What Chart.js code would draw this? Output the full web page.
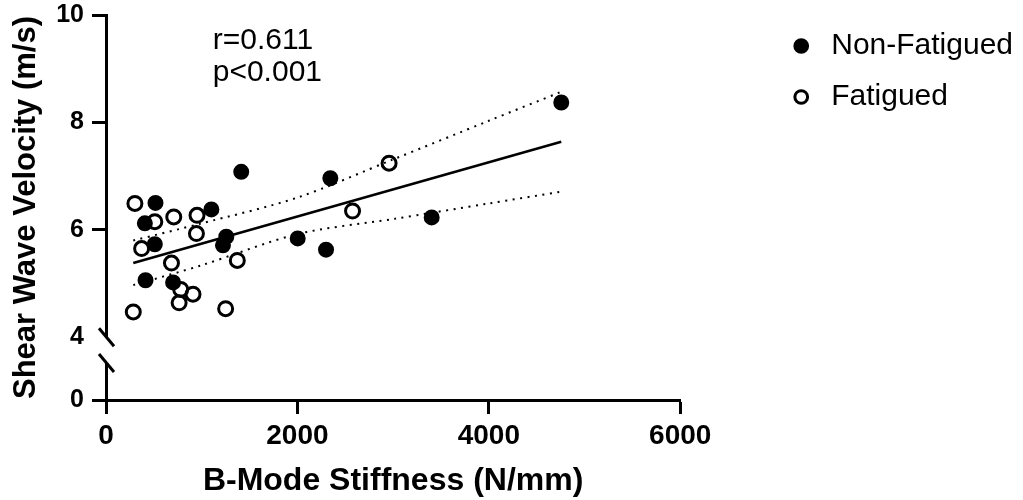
<!DOCTYPE html>
<html>
<head>
<meta charset="utf-8">
<script src="https://cdn.jsdelivr.net/npm/chart.js@4.4.0/dist/chart.umd.min.js"></script>
<style>
  html, body { margin: 0; padding: 0; background: #fff; }
</style>
</head>
<body>
<canvas id="chart" width="1023" height="500"></canvas>
<script>
// Non-Fatigued (filled circles)
const nonFatX = [517, 406, 510, 413, 701, 1101, 1257, 1222, 1413, 2344, 2003, 2299, 3403, 4757];
const nonFatY = [6.50, 6.12, 5.73, 5.06, 5.02, 6.38, 5.87, 5.71, 7.08, 6.96, 5.84, 5.63, 6.23, 8.37];

// Fatigued (open circles)
const fatX = [302, 510, 708, 951, 945, 372, 684, 1372, 2576, 781, 909, 764, 285, 1250, 2958];
const fatY = [6.49, 6.15, 6.24, 6.27, 5.93, 5.65, 5.38, 5.43, 6.35, 4.89, 4.80, 4.64, 4.47, 4.53, 7.24];

// regression line and its 95% band (dotted)
const fitX = [285, 4757];
const fitY = [5.38, 7.64];
const bandX = [285, 1000, 2000, 3000, 4000, 4757];
const bandUpper = [5.80, 6.12, 6.60, 7.31, 8.03, 8.57];
const bandLower = [4.97, 5.34, 5.92, 6.20, 6.49, 6.71];

const xTicks = [0, 2000, 4000, 6000];
const yTicks = [0, 4, 6, 8, 10];
const statsText = ['r=0.611', 'p<0.001'];
const statsAtX = 1115;
const statsAtY = [9.37, 8.77];

// broken y axis: 4..10 is linear, the short segment with 0 sits below a break
const Y_BREAK = 4;
const Y_ZERO_POS = 2.83;
const Y_LOWER_TOP = 3.52;
function yAxisPos(v) {
  return v >= Y_BREAK ? v : Y_ZERO_POS + (v / Y_BREAK) * (Y_LOWER_TOP - Y_ZERO_POS);
}

const black = '#000';
const FONT = "'Liberation Sans', Arial, Helvetica, sans-serif";
Chart.defaults.font.family = FONT;
Chart.defaults.color = black;

const toPts = (xs, ys) => xs.map((x, i) => ({ x: x, y: ys[i] }));

const axisBreak = {
  id: 'axisBreak',
  afterDraw(chart) {
    const { ctx } = chart;
    const y = chart.scales.y;
    const ax = chart.chartArea.left;
    const p1 = y.getPixelForValue(Y_BREAK);
    const p2 = y.getPixelForValue(Y_LOWER_TOP);
    ctx.save();
    ctx.fillStyle = '#fff';
    ctx.fillRect(ax - 4, p1, 8, p2 - p1);
    ctx.strokeStyle = black;
    ctx.lineWidth = 3;
    [p1, p2].forEach(p => {
      ctx.beginPath();
      ctx.moveTo(ax - 7, p - 9);
      ctx.lineTo(ax + 8, p + 9);
      ctx.stroke();
    });
    ctx.restore();
  }
};

const statsLabel = {
  id: 'statsLabel',
  afterDatasetsDraw(chart) {
    const { ctx } = chart;
    const { x, y } = chart.scales;
    ctx.save();
    ctx.font = '30px ' + FONT;
    ctx.fillStyle = black;
    ctx.textAlign = 'left';
    ctx.textBaseline = 'alphabetic';
    statsText.forEach((t, i) => ctx.fillText(t, x.getPixelForValue(statsAtX), y.getPixelForValue(statsAtY[i])));
    ctx.restore();
  }
};

const axisGrid = {
  display: true, drawOnChartArea: false, drawTicks: true,
  tickLength: 14, tickWidth: 3, tickColor: black
};

new Chart(document.getElementById('chart'), {
  type: 'scatter',
  data: {
    datasets: [
      { label: 'Non-Fatigued', data: toPts(nonFatX, nonFatY), pointStyle: 'circle',
        pointRadius: 6.5, borderWidth: 3, borderColor: black, backgroundColor: black, order: 2 },
      { label: 'Fatigued', data: toPts(fatX, fatY), pointStyle: 'circle',
        pointRadius: 7, borderWidth: 3, borderColor: black, backgroundColor: 'rgba(0,0,0,0)', order: 2 },
      { type: 'line', label: 'fit', data: toPts(fitX, fitY), borderColor: black, borderWidth: 2.5,
        pointRadius: 0, fill: false, order: 1 },
      { type: 'line', label: 'upper', data: toPts(bandX, bandUpper), borderColor: black, borderWidth: 2,
        borderDash: [2, 5.5], pointRadius: 0, fill: false, tension: 0.3, order: 1 },
      { type: 'line', label: 'lower', data: toPts(bandX, bandLower), borderColor: black, borderWidth: 2,
        borderDash: [2, 5.5], pointRadius: 0, fill: false, tension: 0.3, order: 1 }
    ]
  },
  options: {
    responsive: false,
    animation: false,
    layout: { padding: { left: 4, top: 10, right: 0, bottom: 0 } },
    plugins: {
      tooltip: { enabled: false },
      legend: {
        position: 'right',
        align: 'start',
        maxWidth: 320,
        labels: {
          usePointStyle: true, boxWidth: 30, boxHeight: 9, padding: 21,
          font: { size: 30 }, color: black,
          filter: item => item.datasetIndex < 2
        }
      }
    },
    scales: {
      x: {
        type: 'linear', min: 0, max: 6000,
        afterBuildTicks: s => { s.ticks = xTicks.map(v => ({ value: v })); },
        border: { display: true, color: black, width: 3 },
        grid: axisGrid,
        ticks: { font: { size: 28, weight: 'bold' }, padding: 5, color: black, maxRotation: 0,
          callback: v => String(v) },
        title: { display: true, text: 'B-Mode Stiffness (N/mm)', color: black,
          font: { size: 32, weight: 'bold' }, padding: { top: 4, bottom: 0 } }
      },
      y: {
        type: 'linear', min: Y_ZERO_POS, max: 10,
        afterBuildTicks: s => { s.ticks = yTicks.map(v => ({ value: yAxisPos(v) })); },
        border: { display: true, color: black, width: 3 },
        grid: Object.assign({}, axisGrid, {
          tickColor: ctx => (ctx.tick && ctx.tick.value === Y_BREAK) ? 'rgba(0,0,0,0)' : black
        }),
        ticks: { font: { size: 25, weight: 'bold', lineHeight: 0.56 }, padding: 8, color: black,
          callback: (v, i) => String(yTicks[i]) },
        title: { display: true, text: 'Shear Wave Velocity (m/s)', color: black,
          font: { size: 31, weight: 'bold' }, padding: { top: 4, bottom: 3 } }
      },
      // empty spacer between the plot and the legend
      gap: {
        position: 'right',
        grid: { display: false },
        border: { display: false },
        ticks: { display: false },
        afterFit: s => { s.width = 85; }
      }
    }
  },
  plugins: [axisBreak, statsLabel]
});
</script>
</body>
</html>
